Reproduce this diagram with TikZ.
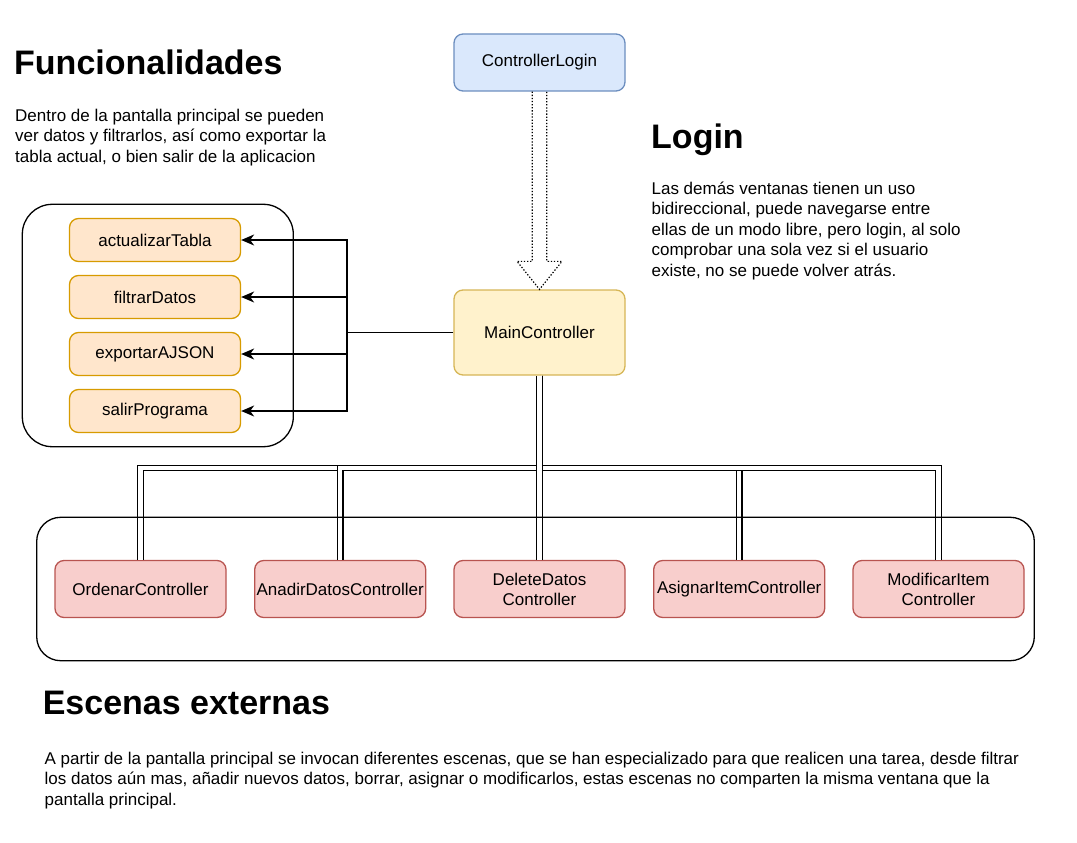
\documentclass[tikz,border=0pt]{standalone}
\usepackage{fontspec}
\setmainfont{Liberation Sans}
\usetikzlibrary{arrows.meta,calc}

\definecolor{loginfill}{HTML}{DAE8FC}
\definecolor{loginline}{HTML}{6C8EBF}
\definecolor{mainfill}{HTML}{FFF2CC}
\definecolor{mainline}{HTML}{D6B656}
\definecolor{funcfill}{HTML}{FFE6CC}
\definecolor{funcline}{HTML}{D79B00}
\definecolor{scenefill}{HTML}{F8CECC}
\definecolor{sceneline}{HTML}{B85450}

\tikzset{
  box/.style={draw, rounded corners=9pt, line width=1.3pt, minimum width=171pt,
    align=center, inner sep=0pt, font=\fontsize{17}{20}\selectfont},
  funcbox/.style={box, fill=funcfill, draw=funcline, minimum height=43pt},
  scenebox/.style={box, fill=scenefill, draw=sceneline, minimum height=57pt},
  arrowline/.style={line width=1.3pt, -{Stealth[length=13pt,width=11pt,inset=4pt]}},
  link/.style={double, double distance=4.2pt, line width=1.3pt},
  frame/.style={line width=1.3pt},
  heading/.style={anchor=base west, inner sep=0pt, font=\bfseries\fontsize{34}{40}\selectfont},
  para/.style={anchor=base west, inner sep=0pt, align=left, font=\fontsize{17}{20.4}\selectfont},
}

\begin{document}
\begin{tikzpicture}[x=1pt,y=-1pt]
    \useasboundingbox (0,0) rectangle (1077,843);

    % Draw the controllers
    \node[box, fill=loginfill, draw=loginline, minimum height=57pt] (login) at (539.5,62.5) {ControllerLogin};
    \node[box, fill=mainfill, draw=mainline, minimum height=85pt] (main) at (539.5,332.5) {MainController};

    % Draw the functions
    \node[funcbox] (upd) at (155,240) {actualizarTabla};
    \node[funcbox] (fil) at (155,297) {filtrarDatos};
    \node[funcbox] (exp) at (155,354) {exportarAJSON};
    \node[funcbox] (sal) at (155,411) {salirPrograma};

    % Draw the scenes
    \node[scenebox] (ord) at (140.5,589) {OrdenarController};
    \node[scenebox] (ana) at (340.2,589) {AnadirDatosController};
    \node[scenebox] (del) at (539.5,589) {DeleteDatos\\Controller};
    \node[scenebox] (asi) at (739.2,589) {AsignarItemController};
    \node[scenebox] (mod) at (938.5,589) {ModificarItem\\Controller};

    % Draw the login arrow
    \draw[line width=1.2pt, dash pattern=on 1.3pt off 1.8pt]
        ($(login.south)+(-7.3,0)$) -- ($(main.north)+(-7.3,-28)$) -- ($(main.north)+(-22.5,-28)$)
        -- (main.north) -- ($(main.north)+(22.5,-28)$) -- ($(main.north)+(7.3,-28)$)
        -- ($(login.south)+(7.3,0)$);

    % Draw the function arrows
    \coordinate (fbus) at (347,332.5);
    \draw[frame] (main.west) -- (fbus);
    \foreach \f in {upd,fil,exp,sal}
        \draw[arrowline] (fbus) |- (\f.east);

    % Draw the scene links
    \coordinate (sbus) at (539.5,468);
    \draw[link] (main.south) -- (sbus) -| (ord.north);
    \draw[link] (main.south) -- (sbus) -| (ana.north);
    \draw[link] (main.south) -- (sbus) -| (asi.north);
    \draw[link] (main.south) -- (sbus) -| (mod.north);
    \draw[link] (main.south) -- (del.north);

    % Draw the frames
    \draw[frame, rounded corners=30pt] (22.3,204.3) rectangle (293.3,446.7);
    \draw[frame, rounded corners=24pt] (36.7,517.3) rectangle (1034.3,660.7);

    % Draw the texts (base = last line)
    \node[heading] (funtitle) at (14,74.3) {Funcionalidades};
    \node[para] (funtext) at (15,162) {Dentro de la pantalla principal se pueden\\ver datos y filtrarlos, así como exportar la\\tabla actual, o bien salir de la aplicacion};
    \node[heading] (logintitle) at (651,148.3) {Login};
    \node[para] (logintext) at (651.4,276) {Las demás ventanas tienen un uso\\bidireccional, puede navegarse entre\\ellas de un modo libre, pero login, al solo\\comprobar una sola vez si el usuario\\existe, no se puede volver atrás.};
    \node[heading] (scenetitle) at (42.6,714) {Escenas externas};
    \node[para] (scenetext) at (44.5,805) {A partir de la pantalla principal se invocan diferentes escenas, que se han especializado para que realicen una tarea, desde filtrar\\los datos aún mas, añadir nuevos datos, borrar, asignar o modificarlos, estas escenas no comparten la misma ventana que la\\pantalla principal.};
\end{tikzpicture}
\end{document}
